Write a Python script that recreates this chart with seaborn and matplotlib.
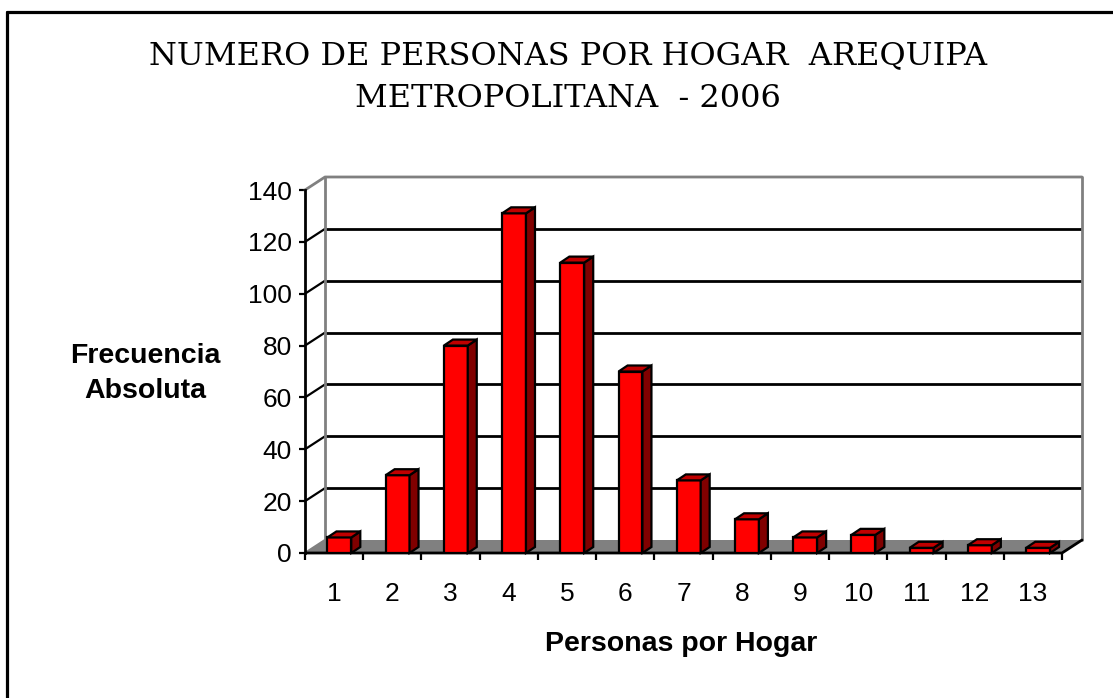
import numpy as np
import pandas as pd
import seaborn as sns
import matplotlib.pyplot as plt
from matplotlib.patches import Polygon
from matplotlib.lines import Line2D

# data
personas = ['1', '2', '3', '4', '5', '6', '7', '8', '9', '10', '11', '12', '13']
frecuencia = [6, 30, 80, 131, 112, 70, 28, 13, 6, 7, 2, 3, 2]
yticks = [0, 20, 40, 60, 80, 100, 120, 140]

df = pd.DataFrame({'Personas': personas, 'Frecuencia': frecuencia})

sns.set_style("white")
plt.rcParams['font.family'] = ['Liberation Sans', 'DejaVu Sans']
plt.rcParams['text.color'] = 'black'

W, H = 1113, 698
fig = plt.figure(figsize=(W / 100, H / 100), dpi=100)
fig.patch.set_facecolor('white')

# axes box = front plane of the 3d chart (pixels measured on the reference)
x0, x1, ybot, ytop = 305, 1062, 553, 190
ax = fig.add_axes([x0 / W, (H - ybot) / H, (x1 - x0) / W, (ybot - ytop) / H])
ax.set_xlim(-0.5, 12.5)
ax.set_ylim(0, 140)

# depth offsets in data units
ux = (x1 - x0) / 13.0
uy = (ybot - ytop) / 140.0
DX, DY = 20 / ux, 13 / uy      # wall depth
BX, BY = 9 / ux, 6 / uy        # bar depth

# floor
floor = Polygon([(-0.5, 0), (12.5, 0), (12.5 + DX, DY), (-0.5 + DX, DY)],
                closed=True, facecolor='#808080', edgecolor='none',
                zorder=1, clip_on=False)
ax.add_patch(floor)

# back wall gridlines + diagonals to the front axis
for v in yticks[1:-1]:
    ax.plot([-0.5 + DX, 12.5 + DX], [v + DY, v + DY], color='black', lw=2,
            zorder=1.5, clip_on=False, solid_capstyle='butt')
    ax.plot([-0.5, -0.5 + DX], [v, v + DY], color='black', lw=1.6,
            zorder=1.5, clip_on=False)
ax.plot([-0.5, -0.5 + DX], [0, DY], color='#808080', lw=1.6, zorder=1.5, clip_on=False)
ax.plot([-0.5, -0.5 + DX, 12.5 + DX], [140, 140 + DY, 140 + DY], color='#808080',
        lw=2, zorder=1.5, clip_on=False)
ax.plot([-0.5 + DX, -0.5 + DX], [DY, 140 + DY], color='#808080', lw=2,
        zorder=1.5, clip_on=False)
ax.plot([12.5 + DX, 12.5 + DX], [DY, 140 + DY], color='#808080', lw=2,
        zorder=1.5, clip_on=False)

# front edge of floor and right diagonal
ax.plot([-0.5, 12.5, 12.5 + DX], [0, 0, DY], color='black', lw=2,
        zorder=2, clip_on=False)

# bars (front faces)
sns.barplot(data=df, x='Personas', y='Frecuencia', color='#FF0000',
            saturation=1, width=0.41, edgecolor='black', linewidth=1.6,
            ax=ax, zorder=3)

for p in list(ax.patches):
    if p is floor:
        continue
    p.set_x(p.get_x() + 0.09)
    bx, bw, bh = p.get_x(), p.get_width(), p.get_height()
    side = Polygon([(bx + bw, 0), (bx + bw + BX, BY), (bx + bw + BX, bh + BY), (bx + bw, bh)],
                   closed=True, facecolor='#800000', edgecolor='black', lw=1.6,
                   zorder=3, clip_on=False)
    top = Polygon([(bx, bh), (bx + bw, bh), (bx + bw + BX, bh + BY), (bx + BX, bh + BY)],
                  closed=True, facecolor='#C00000', edgecolor='black', lw=1.6,
                  zorder=3, clip_on=False)
    ax.add_patch(side)
    ax.add_patch(top)

# spines and ticks
for s in ['top', 'right', 'bottom']:
    ax.spines[s].set_visible(False)
ax.spines['left'].set_color('black')
ax.spines['left'].set_linewidth(2)
ax.spines['left'].set_zorder(4)

ax.set_yticks(yticks)
ax.tick_params(axis='y', left=True, length=4.5, width=1.6, color='black',
               labelsize=19, pad=5, labelcolor='black')
ax.set_xticks(range(13))
ax.set_xticklabels(personas)
ax.set_xticks(np.arange(-0.5, 13, 1.0), minor=True)
ax.tick_params(axis='x', which='major', length=0, labelsize=19, pad=21, labelcolor='black')
ax.tick_params(axis='x', which='minor', bottom=True, length=5, width=1.6,
               color='black', direction='out')
ax.set_xlabel('')
ax.set_ylabel('')
ax.grid(False)

# labels and title
fig.text(681 / W, 1 - 644 / H, 'Personas por Hogar', ha='center', va='center',
         fontsize=20.5, fontweight='bold', color='black')
fig.text(145 / W, 1 - 373 / H, 'Frecuencia\nAbsoluta', ha='center', va='center',
         fontsize=20.5, fontweight='bold', linespacing=1.45, color='black')
fig.text(568 / W, 1 - 77 / H, 'NUMERO DE PERSONAS POR HOGAR  AREQUIPA\nMETROPOLITANA  - 2006',
         ha='center', va='center', fontsize=23, family='DejaVu Serif',
         linespacing=1.5, color='black')

# outer border (only top and left visible in the reference crop)
fig.add_artist(Line2D([7 / W, 7 / W], [0, 1 - 12 / H], color='black', lw=2.3,
                      transform=fig.transFigure))
fig.add_artist(Line2D([7 / W, 1], [1 - 12 / H, 1 - 12 / H], color='black', lw=2.3,
                      transform=fig.transFigure))

fig.savefig('out.png', dpi=100)
